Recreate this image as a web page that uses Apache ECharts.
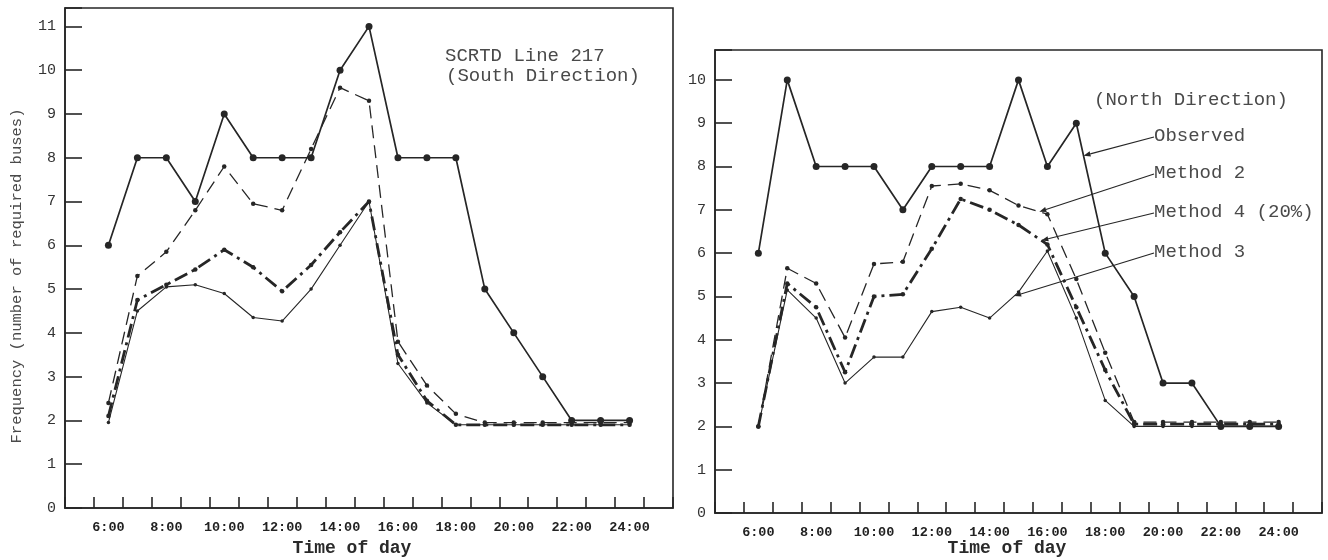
<!DOCTYPE html>
<html><head><meta charset="utf-8">
<script src="https://cdn.jsdelivr.net/npm/echarts@6/dist/echarts.min.js"></script>
<style>html,body{margin:0;padding:0;background:#fff}#c{width:1328px;height:560px}</style>
</head><body><div id="c"></div>
<script>
// x categories (hour slots); first and last are empty padding slots
const categories = ['5:00','6:00','7:00','8:00','9:00','10:00','11:00','12:00','13:00','14:00','15:00','16:00','17:00','18:00','19:00','20:00','21:00','22:00','23:00','24:00','25:00'];
const tickLabels = ['6:00','8:00','10:00','12:00','14:00','16:00','18:00','20:00','22:00','24:00'];
const yTicksSouth = [0,1,2,3,4,5,6,7,8,9,10,11];
const yTicksNorth = [0,1,2,3,4,5,6,7,8,9,10];

// South direction (6:00 .. 24:00)
const observedSouth = [6,8,8,7,9,8,8,8,10,11,8,8,8,5,4,3,2,2,2];
const method2South  = [2.4,5.3,5.85,6.8,7.8,6.95,6.8,8.2,9.6,9.3,3.8,2.8,2.15,1.95,1.95,1.95,1.95,1.95,1.95];
const method4South  = [2.1,4.75,5.1,5.45,5.9,5.5,4.95,5.55,6.3,7.0,3.5,2.45,1.9,1.9,1.9,1.9,1.9,1.9,1.9];
const method3South  = [1.95,4.5,5.05,5.1,4.9,4.35,4.27,5.0,6.0,7.0,3.3,2.4,1.9,1.9,1.9,1.9,1.9,1.9,1.9];

// North direction (6:00 .. 24:00)
const observedNorth = [6,10,8,8,8,7,8,8,8,10,8,9,6,5,3,3,2,2,2];
const method2North  = [2.0,5.65,5.3,4.05,5.75,5.8,7.55,7.6,7.45,7.1,6.9,5.4,3.7,2.1,2.1,2.1,2.1,2.1,2.1];
const method4North  = [2.0,5.3,4.75,3.25,5.0,5.05,6.1,7.25,7.0,6.65,6.2,4.75,3.3,2.05,2.05,2.05,2.05,2.05,2.05];
const method3North  = [2.0,5.15,4.5,3.0,3.6,3.6,4.65,4.75,4.5,5.1,6.05,4.5,2.6,2.0,2.0,2.0,2.0,2.0,2.0];

const INK = '#262626';
const TXT = '#4a4a4a';
const MONO = '"Liberation Mono","DejaVu Sans Mono",monospace';
const pad = a => [null, ...a, null];

function xAxisFor(gi){
  return {
    type:'category', gridIndex:gi, data:categories, boundaryGap:true,
    axisLine:{lineStyle:{color:INK,width:1.6}},
    axisTick:{show:true,inside:true,length:11,interval:0,lineStyle:{color:INK,width:1.6}},
    axisLabel:{interval:(i,v)=>tickLabels.indexOf(v)>=0, margin:13,
      fontFamily:MONO, fontWeight:'bold', fontSize:13.5, color:'#222'},
    splitLine:{show:false}
  };
}
function yAxisFor(gi,max,ticks){
  return {
    type:'value', gridIndex:gi, min:0, max:max, interval:1,
    axisLine:{show:true,lineStyle:{color:INK,width:1.6}},
    axisTick:{show:true,inside:true,length:17,lineStyle:{color:INK,width:1.6}},
    axisLabel:{margin:9, fontFamily:MONO, fontSize:15, color:'#333',
      formatter:v=> ticks.indexOf(v)>=0 ? String(v) : ''},
    splitLine:{show:false}
  };
}
function seriesFor(gi, obs, m2, m4, m3){
  return [
    {name:'Observed', type:'line', xAxisIndex:gi, yAxisIndex:gi, data:pad(obs),
     symbol:'circle', symbolSize:7, itemStyle:{color:INK}, lineStyle:{color:INK,width:1.7}, z:5},
    {name:'Method 2', type:'line', xAxisIndex:gi, yAxisIndex:gi, data:pad(m2),
     symbol:'circle', symbolSize:4.5, itemStyle:{color:INK}, lineStyle:{color:INK,width:1.3,type:[13,7]}, z:4},
    {name:'Method 4 (20%)', type:'line', xAxisIndex:gi, yAxisIndex:gi, data:pad(m4),
     symbol:'circle', symbolSize:4.5, itemStyle:{color:INK}, lineStyle:{color:INK,width:2.8,type:[14,5,3,5]}, z:3},
    {name:'Method 3', type:'line', xAxisIndex:gi, yAxisIndex:gi, data:pad(m3),
     symbol:'circle', symbolSize:3.5, itemStyle:{color:INK}, lineStyle:{color:INK,width:1.1}, z:2}
  ];
}

const chart = echarts.init(document.getElementById('c'), null, {renderer:'canvas'});
chart.setOption({
  animation:false,
  backgroundColor:'#fff',
  grid:[
    {left:65, top:8, width:608, height:500, show:true, borderColor:INK, borderWidth:1.6},
    {left:715, top:50, width:607, height:463, show:true, borderColor:INK, borderWidth:1.6}
  ],
  xAxis:[xAxisFor(0), xAxisFor(1)],
  yAxis:[yAxisFor(0,11.42,yTicksSouth), yAxisFor(1,10.69,yTicksNorth)],
  series:[...seriesFor(0,observedSouth,method2South,method4South,method3South),
          ...seriesFor(1,observedNorth,method2North,method4North,method3North)]
});

// pointer helpers (positions from the chart's own scales)
function ptOn(arr, hourLabel, frac){
  const i = categories.indexOf(hourLabel);
  const a = chart.convertToPixel({xAxisIndex:1,yAxisIndex:1},[i, arr[i-1]]);
  const b = chart.convertToPixel({xAxisIndex:1,yAxisIndex:1},[i+1, arr[i]]);
  return [a[0]+(b[0]-a[0])*frac, a[1]+(b[1]-a[1])*frac];
}
function pointer(from, to){
  const dx = to[0]-from[0], dy = to[1]-from[1], L = Math.hypot(dx,dy);
  const ux = dx/L, uy = dy/L, s = 7, w = 2.6;
  const bx = to[0]-ux*s, by = to[1]-uy*s;
  return [
    {type:'line', shape:{x1:from[0],y1:from[1],x2:bx,y2:by}, style:{stroke:INK,lineWidth:1.2}, z:10},
    {type:'polygon', shape:{points:[[to[0],to[1]],[bx-uy*w,by+ux*w],[bx+uy*w,by-ux*w]]}, style:{fill:INK}, z:10}
  ];
}
const lab = (t,x,y,extra)=>Object.assign({type:'text', x:x, y:y, style:{text:t, font:'19px '+MONO, fill:TXT, textAlign:'left', textVerticalAlign:'middle'}, z:10}, extra||{});

const legendItems = [
  {text:'Observed', y:136, arr:observedNorth, h:'17:00', f:0.25},
  {text:'Method 2', y:173, arr:method2North, h:'15:00', f:0.72},
  {text:'Method 4 (20%)', y:212, arr:method4North, h:'15:00', f:0.79},
  {text:'Method 3', y:252, arr:method3North, h:'14:00', f:0.85}
];
const g = [
  lab('SCRTD Line 217', 445, 56),
  lab('(South Direction)', 446, 76),
  lab('(North Direction)', 1094, 100, {}),
];
legendItems.forEach(it=>{
  g.push(lab(it.text, 1154, it.y, {}));
  g.push(...pointer([1154, it.y+1], ptOn(it.arr, it.h, it.f)));
});
g.push({type:'text', x:352, y:548, style:{text:'Time of day', font:'bold 18px '+MONO, fill:'#2a2a2a', textAlign:'center', textVerticalAlign:'middle'}});
g.push({type:'text', x:1007, y:548, style:{text:'Time of day', font:'bold 18px '+MONO, fill:'#2a2a2a', textAlign:'center', textVerticalAlign:'middle'}});
g.push({type:'text', x:17, y:276, rotation:Math.PI/2, style:{text:'Frequency (number of required buses)', font:'15.5px '+MONO, fill:TXT, textAlign:'center', textVerticalAlign:'middle'}});
chart.setOption({graphic:g});
</script>
</body></html>
